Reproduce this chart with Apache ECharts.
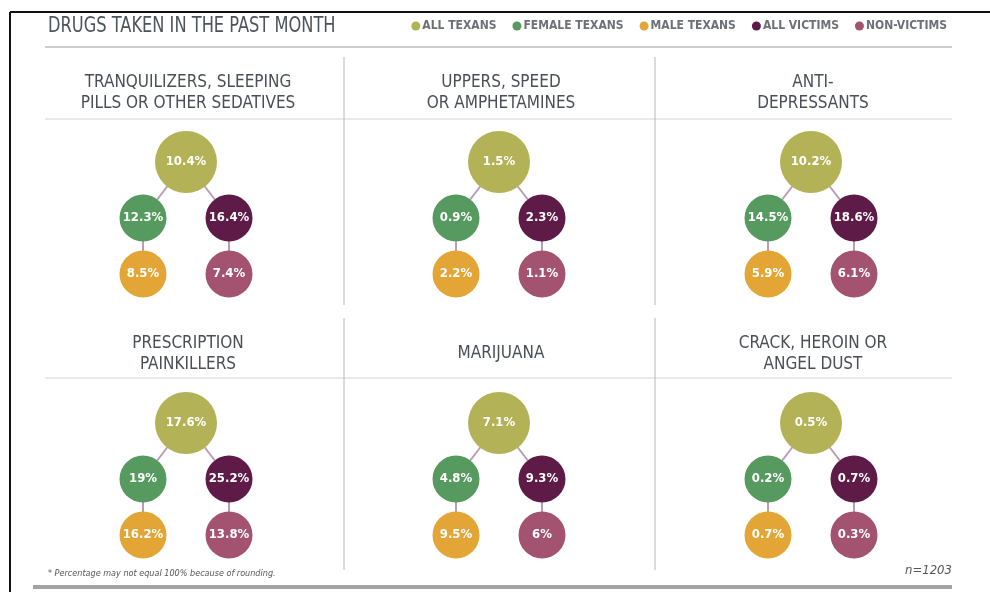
<!DOCTYPE html>
<html>
<head>
<meta charset="utf-8">
<title>Drugs taken in the past month</title>
<script src="https://cdn.jsdelivr.net/npm/echarts@6/dist/echarts.min.js"></script>
<style>
    html, body { margin: 0; padding: 0; background: #fff; }
    #chart { width: 990px; height: 592px; }
</style>
</head>
<body>
<div id="chart"></div>
<script>
// Data
// ------------------------------

var groups = ['ALL TEXANS', 'FEMALE TEXANS', 'MALE TEXANS', 'ALL VICTIMS', 'NON-VICTIMS'];
var drugs = [
    'TRANQUILIZERS, SLEEPING\nPILLS OR OTHER SEDATIVES',
    'UPPERS, SPEED\nOR AMPHETAMINES',
    'ANTI-\nDEPRESSANTS',
    'PRESCRIPTION\nPAINKILLERS',
    'MARIJUANA',
    'CRACK, HEROIN OR\nANGEL DUST'
];
// percent per drug, in the order of groups
var tranquilizers = [10.4, 12.3, 8.5, 16.4, 7.4];
var uppers = [1.5, 0.9, 2.2, 2.3, 1.1];
var antidepressants = [10.2, 14.5, 5.9, 18.6, 6.1];
var painkillers = [17.6, 19, 16.2, 25.2, 13.8];
var marijuana = [7.1, 4.8, 9.5, 9.3, 6];
var crackHeroin = [0.5, 0.2, 0.7, 0.7, 0.3];
var drugValues = [tranquilizers, uppers, antidepressants, painkillers, marijuana, crackHeroin];

// tree layout: column (0 left, 1 middle, 2 right) and level (2 top .. 0 bottom)
var treeCol = [1, 0, 0, 2, 2];
var treeLevel = [2, 1, 0, 1, 0];
var treeLinks = [[0, 1], [0, 3], [1, 2], [3, 4]];

var groupColors = ['#b3b257', '#569a5f', '#e2a536', '#5e1b48', '#a3536f'];
var fontCond = '"DejaVu Sans Condensed", "Liberation Sans Narrow", "Roboto", sans-serif';

// Setup
// ------------------------------

var chart = echarts.init(document.getElementById('chart'));

var colCenters = [186, 499, 811];
var rowTops = [162, 423];

var grids = [], xAxes = [], yAxes = [], series = [];
drugValues.forEach(function(vals, i) {
    var col = i % 3, row = Math.floor(i / 3);
    grids.push({ left: colCenters[col] - 43, width: 86, top: rowTops[row], height: 112 });
    xAxes.push({ type: 'value', gridIndex: i, min: 0, max: 2, show: false });
    yAxes.push({ type: 'value', gridIndex: i, min: 0, max: 2, show: false });
    series.push({
        type: 'graph',
        coordinateSystem: 'cartesian2d',
        xAxisIndex: i,
        yAxisIndex: i,
        silent: true,
        animation: false,
        categories: groups.map(function(g, k) {
            return { name: g, itemStyle: { color: groupColors[k] } };
        }),
        data: vals.map(function(v, k) {
            return {
                name: groups[k],
                value: [treeCol[k], treeLevel[k]],
                pct: v,
                category: k,
                symbolSize: k === 0 ? 62 : 47
            };
        }),
        links: treeLinks.map(function(l) {
            return { source: l[0], target: l[1] };
        }),
        lineStyle: { color: '#b99db5', width: 2, opacity: 1, curveness: 0 },
        label: {
            show: true,
            position: 'inside',
            color: '#fff',
            fontFamily: fontCond,
            fontWeight: 'bold',
            fontSize: 13,
            formatter: function(p) { return p.data.pct + '%'; }
        }
    });
});

// Frame, rules and texts
var graphics = [
    { type: 'line', shape: { x1: 10, y1: 12, x2: 990, y2: 12 }, style: { stroke: '#111', lineWidth: 2 } },
    { type: 'line', shape: { x1: 10, y1: 12, x2: 10, y2: 592 }, style: { stroke: '#111', lineWidth: 2 } },
    { type: 'line', shape: { x1: 45, y1: 47, x2: 952, y2: 47 }, style: { stroke: '#cfcfcf', lineWidth: 2 } },
    { type: 'line', shape: { x1: 45, y1: 119, x2: 952, y2: 119 }, style: { stroke: '#d4d4d4', lineWidth: 1 } },
    { type: 'line', shape: { x1: 45, y1: 378, x2: 952, y2: 378 }, style: { stroke: '#d4d4d4', lineWidth: 1 } },
    { type: 'line', shape: { x1: 344, y1: 57, x2: 344, y2: 305 }, style: { stroke: '#b8b8b8', lineWidth: 1 } },
    { type: 'line', shape: { x1: 655, y1: 57, x2: 655, y2: 305 }, style: { stroke: '#b8b8b8', lineWidth: 1 } },
    { type: 'line', shape: { x1: 344, y1: 318, x2: 344, y2: 570 }, style: { stroke: '#b8b8b8', lineWidth: 1 } },
    { type: 'line', shape: { x1: 655, y1: 318, x2: 655, y2: 570 }, style: { stroke: '#b8b8b8', lineWidth: 1 } },
    { type: 'rect', shape: { x: 33, y: 585, width: 919, height: 4 }, style: { fill: '#a3a3a3' } },
    {
        type: 'text', x: 48, y: 27, scaleX: 0.86,
        style: { text: 'DRUGS TAKEN IN THE PAST MONTH', fill: '#4d535b', font: '21px ' + fontCond, verticalAlign: 'middle' }
    },
    {
        type: 'text', x: 48, y: 574,
        style: { text: '* Percentage may not equal 100% because of rounding.', fill: '#555', font: 'italic 9px ' + fontCond, verticalAlign: 'middle' }
    },
    {
        type: 'text', x: 952, y: 571,
        style: { text: 'n=1203', fill: '#555', font: 'italic 13px ' + fontCond, align: 'right', verticalAlign: 'middle' }
    }
];
drugs.forEach(function(name, i) {
    var col = i % 3, row = Math.floor(i / 3);
    graphics.push({
        type: 'text',
        x: colCenters[col] + 2,
        y: row === 0 ? 93 : 354,
        style: {
            text: name,
            fill: '#4a4f57',
            font: '500 17px ' + fontCond,
            lineHeight: 21,
            align: 'center',
            verticalAlign: 'middle'
        }
    });
});

var option = {
    backgroundColor: '#fff',
    legend: {
        data: groups,
        right: 38,
        top: 15,
        icon: 'circle',
        itemWidth: 9,
        itemHeight: 9,
        itemGap: 16,
        selectedMode: false,
        textStyle: { color: '#6d7075', fontFamily: fontCond, fontWeight: 'bold', fontSize: 12, padding: [0, 0, 0, -3] }
    },
    grid: grids,
    xAxis: xAxes,
    yAxis: yAxes,
    graphic: graphics,
    series: series
};

chart.setOption(option);
</script>
</body>
</html>
